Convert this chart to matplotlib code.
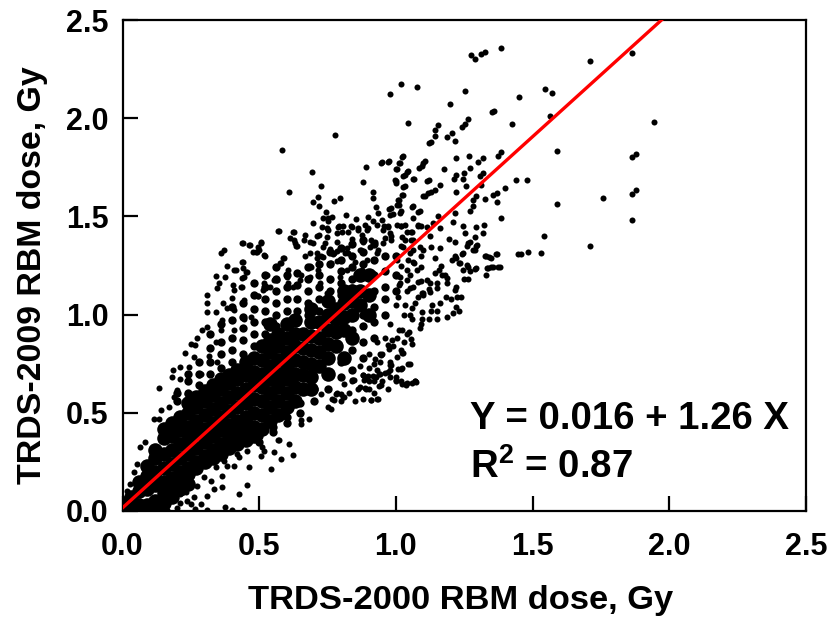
import matplotlib
matplotlib.use("Agg")
import matplotlib.pyplot as plt

# fit printed on the chart
INTERCEPT = 0.016
SLOPE = 1.26
X_TICKS = [0.0, 0.5, 1.0, 1.5, 2.0, 2.5]
Y_TICKS = [0.0, 0.5, 1.0, 1.5, 2.0, 2.5]

# solid part of the cloud, read column by column (x, [y values]); drawn with fat dots
core_cols = [
    (0.01, [0.01, 0.04]), (0.03, [0.02, 0.07]), (0.06, [0.01, 0.03, 0.10, 0.15]),
    (0.09, [0.01, 0.03, 0.11, 0.18, 0.23]), (0.12, [0.02, 0.05, 0.13, 0.20, 0.27, 0.31]),
    (0.15, [0.04, 0.09, 0.15, 0.22, 0.29, 0.37, 0.42]), (0.18, [0.07, 0.13, 0.17, 0.24, 0.31, 0.38, 0.45]),
    (0.21, [0.11, 0.16, 0.20, 0.27, 0.34, 0.41, 0.48]), (0.24, [0.14, 0.19, 0.22, 0.29, 0.36, 0.43, 0.50, 0.55]),
    (0.27, [0.22, 0.25, 0.32, 0.39, 0.46, 0.53, 0.58]), (0.30, [0.25, 0.28, 0.35, 0.42, 0.49, 0.56, 0.61]),
    (0.33, [0.27, 0.31, 0.38, 0.45, 0.52, 0.59, 0.64]), (0.36, [0.29, 0.34, 0.41, 0.48, 0.55, 0.62, 0.67]),
    (0.39, [0.32, 0.37, 0.44, 0.51, 0.58, 0.65, 0.69]), (0.42, [0.34, 0.39, 0.46, 0.53, 0.60, 0.67, 0.72]),
    (0.45, [0.36, 0.41, 0.48, 0.55, 0.62, 0.69, 0.76]), (0.48, [0.38, 0.43, 0.50, 0.57, 0.64, 0.71, 0.78]),
    (0.51, [0.42, 0.49, 0.56, 0.63, 0.70, 0.77, 0.84]), (0.54, [0.46, 0.53, 0.60, 0.67, 0.74, 0.81, 0.87, 0.95]),
    (0.57, [0.49, 0.56, 0.63, 0.70, 0.77, 0.84, 0.90]), (0.60, [0.53, 0.60, 0.67, 0.74, 0.81, 0.88, 0.95]),
    (0.63, [0.56, 0.63, 0.70, 0.77, 0.84, 0.90, 0.97]), (0.66, [0.62, 0.69, 0.76, 0.83, 0.90]),
    (0.69, [0.62, 0.68, 0.75, 0.82, 0.89, 0.96, 1.03]), (0.72, [0.74, 0.81, 0.88, 0.96]),
    (0.75, [0.70, 0.78, 0.85, 0.92, 1.00, 1.07]), (0.78, [0.84, 0.91, 0.98, 1.03]),
    (0.81, [0.78, 0.92, 0.99, 1.06, 1.12]), (0.84, [0.88, 1.00, 1.07, 1.12]), (0.87, [1.05, 1.12, 1.20]),
    (0.90, [1.00, 1.10, 1.20]),
]

# busy but not solid part of the cloud; drawn with medium dots
mid_cols = [
    (0.20, [0.56, 0.60]), (0.24, [0.60, 0.66, 0.70]), (0.28, [0.64, 0.70, 0.76]),
    (0.32, [0.70, 0.76, 0.83, 0.90]), (0.36, [0.73, 0.80, 0.86, 0.95]),
    (0.40, [0.76, 0.82, 0.88, 0.97, 1.04]), (0.44, [0.80, 0.87, 0.93, 0.99, 1.06]),
    (0.48, [0.84, 0.90, 0.96, 1.03, 1.10, 1.16]), (0.52, [0.90, 0.96, 1.02, 1.08, 1.14, 1.20]),
    (0.56, [0.94, 1.00, 1.06, 1.12, 1.18, 1.24]), (0.60, [0.95, 1.02, 1.08, 1.14, 1.20]),
    (0.64, [0.96, 1.02, 1.08, 1.15, 1.21]), (0.68, [1.00, 1.06, 1.12, 1.18, 1.24]),
    (0.72, [1.02, 1.08, 1.14, 1.20, 1.26]), (0.76, [1.06, 1.12, 1.18, 1.26, 1.32]),
    (0.80, [1.10, 1.16, 1.22, 1.28, 1.34]), (0.84, [0.72, 0.82, 0.92, 1.18, 1.24, 1.30, 1.36]),
    (0.88, [0.78, 0.86, 0.94, 1.00, 1.26, 1.32, 1.38]), (0.92, [0.88, 0.96, 1.04, 1.12, 1.20, 1.28, 1.36]),
    (0.96, [1.00, 1.08, 1.14, 1.22, 1.30]), (1.00, [1.12, 1.20, 1.30]),
    (0.50, [0.35, 0.38]), (0.55, [0.40, 0.43]), (0.60, [0.45, 0.48]), (0.65, [0.50, 0.55]),
    (0.70, [0.56, 0.62]), (0.75, [0.62, 0.70]), (0.80, [0.68, 0.76]),
]

# upper tail of the cloud
tail_pts = [
    (1.384, 2.355), (1.325, 2.335), (1.313, 2.326), (1.274, 2.32), (1.291, 2.30), (1.71, 2.29), (1.865, 2.33),
    (1.017, 2.173), (1.077, 2.16), (0.978, 2.122), (1.252, 2.139), (1.547, 2.147), (1.57, 2.13), (1.45, 2.11),
    (1.199, 2.074), (1.359, 2.036), (1.35, 2.03), (1.264, 1.994), (1.252, 1.973), (1.24, 1.956), (1.046, 1.977),
    (1.425, 1.973), (1.563, 2.011), (1.945, 1.98), (1.154, 1.963), (1.142, 1.94), (1.144, 1.909), (1.206, 1.926),
    (1.186, 1.904), (1.217, 1.886), (1.129, 1.878), (1.591, 1.834), (1.386, 1.827), (1.374, 1.81), (1.266, 1.81),
    (1.22, 1.798), (1.319, 1.798), (1.30, 1.776), (1.027, 1.806), (1.014, 1.772), (1.005, 1.742), (0.975, 1.781),
    (0.948, 1.776), (1.107, 1.781), (1.095, 1.759), (1.88, 1.817), (1.865, 1.80), (1.176, 1.742), (1.27, 1.747),
    (1.044, 1.73), (1.032, 1.713), (1.441, 1.687), (1.48, 1.685), (1.319, 1.721), (1.309, 1.704), (1.221, 1.713),
    (1.212, 1.692), (1.249, 1.721), (1.247, 1.691), (1.068, 1.692), (1.001, 1.679), (1.12, 1.687), (1.16, 1.662),
    (1.142, 1.636), (1.127, 1.622), (1.032, 1.656), (1.258, 1.653), (1.313, 1.662), (1.221, 1.622), (1.105, 1.605),
    (1.025, 1.61), (1.013, 1.585), (1.01, 1.56), (1.88, 1.634), (1.863, 1.616), (1.759, 1.592), (1.589, 1.561),
    (1.865, 1.483), (1.711, 1.35), (1.398, 1.645), (1.368, 1.619), (1.356, 1.609), (1.37, 1.573), (1.326, 1.588),
    (1.294, 1.605), (1.282, 1.585), (1.282, 1.551), (1.27, 1.525), (1.384, 1.49), (1.215, 1.517), (1.154, 1.50),
    (1.135, 1.466), (1.209, 1.469), (1.088, 1.525), (1.062, 1.551), (0.983, 1.541), (1.019, 1.525), (0.989, 1.513),
    (1.093, 1.449), (1.16, 1.44), (1.246, 1.449), (1.292, 1.445), (1.322, 1.457), (1.319, 1.415), (1.252, 1.415),
    (1.288, 1.397), (1.27, 1.372), (1.261, 1.35), (1.298, 1.353), (1.543, 1.401), (1.194, 1.384), (1.217, 1.372),
    (1.16, 1.338), (1.127, 1.346), (1.123, 1.398), (1.056, 1.423), (1.019, 1.449), (0.97, 1.449), (0.983, 1.398),
    (1.032, 1.38), (1.062, 1.329), (1.099, 1.329), (1.445, 1.31), (1.459, 1.307), (1.484, 1.319), (1.53, 1.312),
    (1.371, 1.309), (1.331, 1.299), (1.349, 1.287), (1.246, 1.312), (1.288, 1.329), (1.221, 1.287), (1.142, 1.287),
    (1.093, 1.30), (1.062, 1.27), (1.264, 1.244), (1.233, 1.261), (1.355, 1.244), (1.38, 1.241), (1.337, 1.236),
    (1.294, 1.236), (1.166, 1.248), (1.093, 1.244), (1.019, 1.248),
]

# dots right of the fit line
right_pts = [
    (1.33, 1.2), (1.27, 1.22), (1.25, 1.18), (1.22, 1.14), (1.18, 1.2), (1.15, 1.16), (1.12, 1.13), (1.09, 1.17),
    (1.05, 1.2), (1.2, 1.08), (1.16, 1.06), (1.13, 1.02), (1.1, 1.1), (1.07, 1.06), (1.04, 1.12), (1.01, 1.15),
    (1.0, 1.05), (1.03, 1.0), (1.06, 0.98), (1.09, 0.95), (1.12, 0.98), (0.98, 0.95), (1.01, 0.92), (1.04, 0.9),
    (0.96, 0.88), (0.99, 0.84), (1.02, 0.82), (0.93, 0.86), (0.95, 0.8), (0.98, 0.76), (0.9, 0.8), (0.92, 0.75),
    (0.94, 0.7), (0.87, 0.74), (0.89, 0.68), (0.84, 0.66), (0.86, 0.62), (0.9, 0.62), (0.83, 0.6), (0.8, 0.56),
    (0.85, 0.56), (1.07, 0.66), (1.04, 0.65), (1.02, 0.66), (1.0, 0.68), (0.98, 0.72), (1.06, 0.85), (0.95, 0.66),
    (0.92, 0.6), (0.88, 0.57), (0.93, 0.72), (0.97, 0.62),
    (1.365, 1.307), (1.342, 1.292), (1.326, 1.3), (1.375, 1.241), (1.348, 1.244), (1.332, 1.236), (1.292, 1.349),
    (1.283, 1.329), (1.265, 1.363), (1.241, 1.309), (1.216, 1.298), (1.204, 1.278), (1.232, 1.261), (1.259, 1.253),
    (1.247, 1.227), (1.289, 1.231), (1.265, 1.18), (1.186, 1.185), (1.186, 1.159), (1.159, 1.227), (1.143, 1.21),
    (1.168, 1.202), (1.082, 1.168), (1.125, 1.159), (1.149, 1.134), (1.125, 1.117), (1.216, 1.125), (1.183, 1.088),
    (1.222, 1.088), (1.238, 1.091), (1.131, 1.049), (1.152, 1.02), (1.097, 1.015), (1.097, 0.978), (1.152, 0.976),
    (1.186, 0.99), (1.208, 1.01), (1.22, 1.04), (1.232, 1.02), (1.088, 0.933), (1.052, 0.998), (1.058, 1.032),
    (1.033, 1.049), (1.009, 1.091), (1.052, 1.134), (1.015, 1.159), (1.04, 1.176), (1.082, 1.091), (1.1, 1.108),
    (1.054, 0.874), (1.03, 0.859), (1.048, 0.91), (1.021, 0.922), (1.003, 0.879), (0.985, 0.871), (0.972, 0.845),
    (0.976, 0.823), (0.942, 0.798), (1.021, 0.803), (1.003, 0.782), (1.046, 0.748), (0.979, 0.743), (0.903, 0.726),
    (1.009, 0.723), (1.021, 0.726), (0.942, 0.76), (0.979, 0.684), (0.96, 0.704), (0.942, 0.696), (0.918, 0.689),
    (0.899, 0.687), (0.878, 0.692), (1.0, 0.664), (1.021, 0.645), (1.037, 0.641), (1.058, 0.653), (1.07, 0.66),
    (0.939, 0.638), (0.92, 0.664), (0.903, 0.662), (0.885, 0.667), (0.869, 0.63), (0.887, 0.624), (0.841, 0.667),
    (0.808, 0.582), (0.783, 0.602), (0.908, 0.565), (0.932, 0.568), (0.765, 0.568),
]

# dots above the solid part
upper_pts = [
    (0.573, 1.428), (0.628, 1.423), (0.628, 1.381), (0.64, 1.35), (0.665, 1.381), (0.695, 1.364), (0.72, 1.406),
    (0.75, 1.43), (0.793, 1.449), (0.836, 1.449), (0.86, 1.43), (0.897, 1.44), (0.958, 1.449), (1.02, 1.449),
    (1.08, 1.449), (0.371, 1.33), (0.362, 1.316), (0.441, 1.367), (0.465, 1.355), (0.506, 1.364), (0.5, 1.33),
    (0.487, 1.321), (0.518, 1.304), (0.384, 1.25), (0.441, 1.267), (0.414, 1.227), (0.341, 1.198), (0.374, 1.193),
    (0.353, 1.159), (0.347, 1.137), (0.31, 1.10), (0.31, 1.057), (0.308, 1.015), (0.341, 1.015), (0.384, 1.032),
    (0.408, 1.023), (0.369, 1.06), (0.408, 1.125), (0.432, 1.142), (0.445, 1.193), (0.457, 1.219), (0.402, 1.083),
    (0.445, 1.074), (0.494, 1.095), (0.591, 1.287), (0.579, 1.262), (0.53, 1.202), (0.555, 1.176), (0.518, 1.159),
    (0.604, 1.159), (0.653, 1.202), (0.689, 1.244), (0.726, 1.296), (0.714, 1.228), (0.762, 1.261), (0.775, 1.313),
    (0.824, 1.313), (0.8, 1.279), (0.873, 1.33), (0.909, 1.381), (0.934, 1.33), (0.983, 1.381), (1.02, 1.347),
    (1.056, 1.381), (1.068, 1.262), (1.044, 1.279), (0.31, 0.938), (0.292, 0.921), (0.365, 0.972), (0.359, 0.921),
    (0.445, 0.98), (0.469, 0.989), (0.408, 0.921), (0.274, 0.883), (0.249, 0.849), (0.227, 0.802), (0.267, 0.844),
    (0.341, 0.861), (0.316, 0.788), (0.347, 0.759), (0.261, 0.785), (0.212, 0.733), (0.186, 0.716), (0.182, 0.682),
    (0.243, 0.733), (0.28, 0.691), (0.135, 0.628), (0.2, 0.614), (0.139, 0.512), (0.115, 0.466), (0.063, 0.325),
    (0.041, 0.197),
    (0.777, 1.913), (0.584, 1.838), (1.121, 1.872), (0.692, 1.724), (0.61, 1.626), (0.726, 1.656), (0.716, 1.60),
    (0.695, 1.572), (0.72, 1.555), (0.775, 1.58), (0.795, 1.595), (0.744, 1.524), (0.891, 1.753), (0.944, 1.774),
    (0.97, 1.779), (1.023, 1.804), (1.011, 1.77), (1.0, 1.74), (1.098, 1.77), (1.086, 1.745), (1.039, 1.728),
    (1.027, 1.707), (1.064, 1.689), (0.997, 1.685), (0.999, 1.668), (1.027, 1.651), (0.881, 1.677), (0.915, 1.626),
    (0.917, 1.594), (1.023, 1.609), (1.009, 1.583), (1.003, 1.558), (1.1, 1.604), (1.115, 1.682), (1.119, 1.617),
    (0.926, 1.55), (0.976, 1.538), (0.936, 1.516), (0.817, 1.505), (0.753, 1.493), (0.765, 1.495), (0.734, 1.49),
    (0.698, 1.468), (0.753, 1.478), (0.854, 1.485), (0.899, 1.495), (0.917, 1.478), (0.948, 1.482), (0.978, 1.507),
    (1.015, 1.516), (1.058, 1.546), (1.082, 1.524), (1.064, 1.49), (0.728, 1.448), (0.749, 1.441), (0.789, 1.448),
    (0.805, 1.451), (0.838, 1.444), (0.863, 1.439), (0.887, 1.456), (0.93, 1.456), (0.972, 1.448), (1.003, 1.456),
    (1.033, 1.456), (1.082, 1.456), (0.569, 1.427), (0.625, 1.422), (0.613, 1.388), (0.631, 1.363), (0.667, 1.405),
    (0.686, 1.371), (0.713, 1.402), (0.749, 1.397), (0.786, 1.414), (0.802, 1.422), (0.826, 1.422), (0.893, 1.431),
    (0.954, 1.431), (1.039, 1.422), (1.058, 1.422), (0.786, 1.371), (0.838, 1.385), (0.875, 1.405), (0.881, 1.371),
    (0.923, 1.371), (0.96, 1.388), (1.021, 1.397), (1.064, 1.38), (1.112, 1.448), (0.438, 1.366), (0.464, 1.354),
    (0.505, 1.371), (0.497, 1.346), (0.478, 1.32), (0.493, 1.317), (0.52, 1.298), (0.634, 1.349), (0.741, 1.363),
    (0.734, 1.342), (0.786, 1.325), (0.822, 1.337), (0.814, 1.312), (0.869, 1.329), (0.686, 1.315), (0.667, 1.3),
    (0.71, 1.312), (0.713, 1.286), (0.759, 1.332), (0.771, 1.308), (0.734, 1.291), (0.783, 1.274), (0.85, 1.269),
    (0.588, 1.286), (0.576, 1.261), (0.561, 1.244), (0.438, 1.266), (0.442, 1.239), (0.408, 1.227), (0.45, 1.218),
    (0.436, 1.184), (0.405, 1.151), (0.436, 1.142), (0.521, 1.198), (0.606, 1.227), (0.686, 1.247), (0.497, 1.096),
    (0.905, 1.346), (0.93, 1.312), (0.954, 1.363), (0.978, 1.414), (0.893, 1.278), (0.875, 1.227), (0.82, 1.227),
    (0.795, 1.193), (0.759, 1.176), (0.722, 1.159), (0.686, 1.193), (0.649, 1.176), (0.625, 1.142), (0.6, 1.193),
    (0.564, 1.176), (0.539, 1.142), (0.515, 1.125), (0.838, 1.142), (0.795, 1.125), (0.747, 1.108), (1.027, 1.346),
    (1.051, 1.312), (1.088, 1.346), (1.003, 1.278), (1.076, 1.227), (1.112, 1.176), (1.039, 1.227), (1.015, 1.193),
    (1.064, 1.142), (1.094, 1.108), (0.133, 0.469), (0.084, 0.35), (0.053, 0.239), (0.029, 0.137), (0.017, 0.103),
    (0.212, 0.674), (0.237, 0.597), (0.188, 0.58), (0.17, 0.529), (0.286, 0.699),
]

# dots below the solid part
lower_pts = [
    (0.622, 0.285), (0.579, 0.265), (0.542, 0.214), (0.506, 0.282), (0.463, 0.226), (0.457, 0.132), (0.426, 0.086),
    (0.374, 0.018), (0.402, 0.004), (0.445, 0.004), (0.31, 0.004), (0.286, 0.035), (0.335, 0.112), (0.365, 0.12),
    (0.31, 0.077), (0.261, 0.069), (0.237, 0.052), (0.212, 0.086), (0.323, 0.154), (0.365, 0.18), (0.408, 0.231),
    (0.371, 0.256), (0.426, 0.273), (0.555, 0.299), (0.61, 0.342), (0.573, 0.359), (0.518, 0.307), (0.653, 0.444),
    (0.683, 0.469), (0.75, 0.529), (0.775, 0.563), (0.811, 0.58), (0.909, 0.563), (0.934, 0.568), (0.891, 0.623),
    (0.946, 0.64), (0.879, 0.691), (0.928, 0.682), (0.97, 0.708), (1.0, 0.665), (1.038, 0.645), (1.074, 0.657),
    (1.05, 0.747), (1.019, 0.725), (0.983, 0.742), (0.946, 0.793), (1.025, 0.802), (0.922, 0.776), (0.848, 0.665),
    (0.811, 0.648),
    (0.139, 0.069), (0.164, 0.035), (0.182, 0.06), (0.212, 0.043), (0.2, 0.015), (0.249, 0.035), (0.267, 0.01),
    (0.121, 0.018), (0.164, 0.004), (0.231, 0.095), (0.274, 0.129), (0.298, 0.171), (0.341, 0.222), (0.384, 0.231),
    (0.42, 0.29), (0.457, 0.307), (0.512, 0.325), (0.567, 0.359), (0.653, 0.461), (0.762, 0.52), (0.8, 0.597),
    (0.842, 0.665), (0.781, 0.597), (0.726, 0.597),
]

core_x = [c[0] for c in core_cols for _ in c[1]]
core_y = [v for c in core_cols for v in c[1]]
mid_x = [c[0] for c in mid_cols for _ in c[1]]
mid_y = [v for c in mid_cols for v in c[1]]
dot_pts = tail_pts + right_pts + upper_pts + lower_pts
dot_x = [p[0] for p in dot_pts]
dot_y = [p[1] for p in dot_pts]

plt.rcParams["font.family"] = ["Liberation Sans", "DejaVu Sans"]
plt.rcParams["font.weight"] = "bold"
plt.rcParams["mathtext.fontset"] = "custom"
plt.rcParams["mathtext.bf"] = "Liberation Sans:bold"
plt.rcParams["mathtext.rm"] = "Liberation Sans:bold"

W, H = 833, 622
fig = plt.figure(figsize=(W / 100, H / 100), dpi=100)
ax = fig.add_axes([122.5 / W, 1 - 511 / H, (806 - 122.5) / W, (511 - 20) / H])

ax.scatter(core_x, core_y, s=110, c="black", linewidths=0, zorder=2)
ax.scatter(mid_x, mid_y, s=36, c="black", linewidths=0, zorder=2)
ax.scatter(dot_x, dot_y, s=19, c="black", linewidths=0, zorder=2)

line_x = [0.0, 2.5]
line_y = [INTERCEPT + SLOPE * v for v in line_x]
ax.plot(line_x, line_y, color="#ff0000", lw=2.4, zorder=3)

ax.set_xlim(0, 2.5)
ax.set_ylim(0, 2.5)
ax.set_xticks(X_TICKS)
ax.set_yticks(Y_TICKS)
ax.set_xticklabels([f"{v:.1f}" for v in X_TICKS])
ax.set_yticklabels([f"{v:.1f}" for v in Y_TICKS])
ax.tick_params(direction="in", length=10.5, width=1.6, labelsize=22)
ax.tick_params(axis="x", pad=15)
ax.tick_params(axis="y", pad=10)
for sp in ax.spines.values():
    sp.set_linewidth(1.6)

ax.set_xlabel("TRDS-2000 RBM dose, Gy", fontsize=24.8, fontweight="bold", labelpad=17, x=0.494)
ax.set_ylabel("TRDS-2009 RBM dose, Gy", fontsize=24.4, fontweight="bold", labelpad=13, y=0.48)

ax.text(470 / W, 1 - 419 / H, "Y = 0.016 + 1.26 X", transform=fig.transFigure,
        fontsize=27.6, fontweight="bold", va="center", ha="left")
ax.text(470 / W, 1 - 467 / H, "R$\\mathbf{^2}$ = 0.87", transform=fig.transFigure,
        fontsize=27.6, fontweight="bold", va="center", ha="left")

fig.savefig("out.png", dpi=100)
